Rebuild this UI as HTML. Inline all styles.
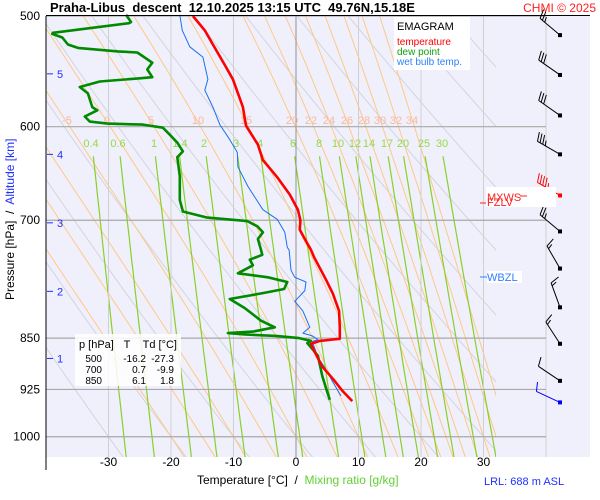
<!DOCTYPE html>
<html><head><meta charset="utf-8"><style>
body{margin:0;background:#fff;}
svg{display:block;font-family:"Liberation Sans",sans-serif;}
</style></head><body>
<svg id="chart" width="600" height="500" viewBox="0 0 600 500">
<rect x="46" y="16" width="544" height="441" fill="#f0f0fc"/>
<defs><clipPath id="clipL"><rect x="46" y="16" width="450" height="441"/></clipPath>
<clipPath id="clipM"><rect x="46" y="156" width="450" height="301"/></clipPath></defs>
<g id="gDry" clip-path="url(#clipL)"></g>
<g id="gMoist" clip-path="url(#clipL)"></g>
<g id="gMix" clip-path="url(#clipM)"></g>
<g id="gGrid"></g>
<g id="gLabels"></g>
<g id="gSeries"></g>
<g id="gWind"></g>
<line x1="46" y1="16" x2="46" y2="470" stroke="#000"/>
<line x1="46" y1="15.5" x2="590" y2="15.5" stroke="#000"/>
<text x="50" y="12" font-size="13" font-weight="bold" style="white-space:pre">Praha-Libus  descent  12.10.2025 13:15 UTC  49.76N,15.18E</text>
<text x="596" y="12" font-size="12" fill="#ff2020" text-anchor="end">CHMI © 2025</text>
<rect x="394" y="17" width="76" height="53" fill="#fff"/>
<text x="397" y="30" font-size="11">EMAGRAM</text>
<text x="397" y="45" font-size="10" fill="#ff0000">temperature</text>
<text x="397" y="55" font-size="10" fill="#10a010">dew point</text>
<text x="397" y="65" font-size="10" fill="#3080ff">wet bulb temp.</text>
<rect x="75" y="334" width="106" height="52" fill="#fff" opacity="0.85"/>
<g font-size="11">
<text x="79" y="348">p [hPa]</text><text x="127" y="348" text-anchor="middle">T</text><text x="177" y="348" text-anchor="end">Td [°C]</text>
<text x="102" y="362" font-size="10" text-anchor="end">500</text><text x="146" y="362" font-size="10" text-anchor="end">-16.2</text><text x="174" y="362" font-size="10" text-anchor="end">-27.3</text>
<text x="102" y="373" font-size="10" text-anchor="end">700</text><text x="146" y="373" font-size="10" text-anchor="end">0.7</text><text x="174" y="373" font-size="10" text-anchor="end">-9.9</text>
<text x="102" y="384" font-size="10" text-anchor="end">850</text><text x="146" y="384" font-size="10" text-anchor="end">6.1</text><text x="174" y="384" font-size="10" text-anchor="end">1.8</text>
</g>
<g id="gAxes"></g>
<text transform="translate(14,300) rotate(-90)" font-size="12" style="white-space:pre"><tspan>Pressure [hPa]  /  </tspan><tspan fill="#2030ff">Altitude [km]</tspan></text>
<text x="197" y="484" font-size="12" style="white-space:pre">Temperature [°C]  /  <tspan fill="#60d030">Mixing ratio [g/kg]</tspan></text>
<text x="484" y="485" font-size="11" fill="#2030ff">LRL: 688 m ASL</text>
<rect x="486" y="187" width="70" height="20" fill="#fff"/>
<line x1="480" y1="203" x2="486" y2="203" stroke="#ff2020"/>
<line x1="520" y1="196" x2="527" y2="196" stroke="#ff2020"/>
<text x="487" y="206" font-size="11" fill="#ff2020">FZLV</text>
<text x="487" y="201" font-size="11" fill="#ff2020">MXWS</text>
<rect x="487" y="271" width="35" height="12" fill="#fff"/>
<line x1="480" y1="277" x2="487" y2="277" stroke="#3080ff"/>
<text x="487" y="281" font-size="11" fill="#3080ff">WBZL</text>
</svg>
<script>
// ---- data ----
const tempP = [500,512,524,542,555,581,599,618,634,653,671,688,700,711,722,735,744,772,790,813,835,851,852,854,858,868,891,909,928,943];
const tempT = [-16.5,-14.6,-13.3,-11.4,-10.1,-8.5,-8.0,-6.1,-5.3,-2.9,-1.0,0.3,0.7,0.6,1.4,2.4,2.9,4.8,5.9,6.9,7.0,7.0,5.9,3.8,2.4,2.9,4.2,5.9,7.5,9.0];
const dewP = [499,505,506,514,515,518,524,527,530,531,540,546,553,554,557,562,568,581,584,590,595,597,598,601,608,616,625,631,651,677,690,697,701,707,714,722,735,741,747,754,764,769,775,784,789,797,809,826,835,841,843,845,847,850,854,857,875,888,905,923,941];
const dewT = [-27.2,-26.4,-26.7,-38.9,-39.0,-37.4,-36.5,-34.9,-28.5,-25.4,-23.0,-23.8,-23.0,-25.0,-31.4,-34.6,-33.3,-32.6,-31.8,-33.8,-33.0,-30.2,-24.5,-21.3,-20.2,-19.0,-18.1,-19.0,-18.6,-18.6,-18.1,-14.2,-7.8,-6.2,-5.3,-6.1,-5.6,-5.4,-7.4,-6.9,-9.3,-4.5,-1.4,-1.9,-5.1,-10.6,-8.2,-5.6,-3.4,-6.9,-10.9,-8.2,-3.2,0.5,2.4,1.8,3.5,3.8,4.2,4.8,5.4];
const wbP = [499,512,526,535,555,565,581,598,613,626,641,662,688,699,714,732,735,760,769,775,786,800,813,835,843,847,852,855,877,895,914,935];
const wbT = [-18.6,-18.2,-17.0,-14.9,-14.1,-14.6,-13.3,-12.2,-10.6,-9.4,-9.3,-7.7,-5.3,-3.0,-1.8,-1.4,-1.1,-0.8,-0.2,1.6,1.4,-0.2,1.1,2.2,1.1,2.6,3.5,2.6,3.5,4.8,5.9,7.2];
const pressTicks = [500,600,700,850,925,1000];
const tempTicks = [-30,-20,-10,0,10,20,30];
const altTicks = [5,4,3,2,1];
const altTickP = [550,628,703,787,879];
const moistThetaW = [-20,-15,-10,-5,0,5,10,15,20,22,24,26,28,30,32,34];
const moistLabels = ["-5","0","5","10","15","20","22","24","26","28","30","32","34"];
const mixRatios = [0.4,0.6,1,1.4,2,3,4,6,8,10,12,14,17,20,25,30];
const dryTheta = [-30,-20,-10,0,10,20,30,40,50,60,70,80,90,100,110,120,130];
const windP = [516,551,589,628,672,713,758,808,858,912,945];
const windDir = [310,305,305,300,300,310,330,340,327,304,295];
const windSpd = [25,30,30,35,45,25,15,15,15,10,10];

// ---- axes ----
const X = t => 296 + t*6.25;
const Y = p => 16 + 607*Math.log(p/500);
const NS='http://www.w3.org/2000/svg';
function mk(tag, parent, attrs){const e=document.createElementNS(NS,tag);for(const k in attrs)e.setAttribute(k,attrs[k]);parent.appendChild(e);return e;}
const g = id=>document.getElementById(id);
function es(tc){return 6.112*Math.exp(17.67*tc/(tc+243.5));}

dryTheta.forEach(th=>{
  let pts=[];for(let p=480;p<=1060;p+=10){const T=(th+273.15)*Math.pow(p/1000,0.2857)-273.15;pts.push(X(T).toFixed(1)+','+Y(p).toFixed(1));}
  const e=mk('polyline',g('gDry'),{points:pts.join(' '),fill:'none',stroke:'#d4d4dc','stroke-width':1});
  
  
});
function moist(tw){
  const Rd=287,cp=1004,L=2.5e6,eps=0.622;
  const res={};
  [-1,1].forEach(dir=>{
    let T=tw+273.15, lp=Math.log(1000);
    const step=dir*0.002;
    const target=dir<0?Math.log(480):Math.log(1060);
    while(dir<0?lp>target:lp<target){
      const p=Math.exp(lp), e=es(T-273.15), rs=eps*e/(p-e);
      const d=(Rd*T+L*rs)/(cp+L*L*rs*eps/(Rd*T*T));
      T+=d*step; lp+=step; res[Math.exp(lp).toFixed(1)]=T;
    }
  });
  return Object.keys(res).map(Number).sort((a,b)=>a-b).filter((p,i)=>i%5==0).map(p=>X(res[p.toFixed(1)]-273.15).toFixed(1)+','+Y(p).toFixed(1));
}
moistThetaW.forEach(tw=>{
  const e=mk('polyline',g('gMoist'),{points:moist(tw).join(' '),fill:'none',stroke:'#ffc886','stroke-width':1});
  
  
});
mixRatios.forEach(w=>{
  let pts=[];for(let p=630;p<=1060;p+=10){const e=w*p/(622+w);const l=Math.log(e/6.112);const T=243.5*l/(17.67-l);pts.push(X(T).toFixed(1)+','+Y(p).toFixed(1));}
  const e=mk('polyline',g('gMix'),{points:pts.join(' '),fill:'none',stroke:'#88d028','stroke-width':1.2});
  
  
});
tempTicks.forEach(t=>{
  const e=mk('line',g('gGrid'),{x1:X(t),x2:X(t),y1:16,y2:457,stroke:t==0?'#909090':'#d0d0d0','stroke-width':1});
  
  
  const l=mk('text',g('gAxes'),{x:X(t),y:466,'font-size':12,'text-anchor':'middle'});l.textContent=t;
  
  
});
mk('line',g('gGrid'),{x1:X(40),x2:X(40),y1:16,y2:457,stroke:'#d0d0d0'});
pressTicks.forEach(p=>{
  const e=mk('line',g('gGrid'),{x1:46,x2:546,y1:Y(p),y2:Y(p),stroke:'#a8a8a8','stroke-width':1.2});
  
  
  const l=mk('text',g('gAxes'),{x:40,y:Y(p)+4,'font-size':12,'text-anchor':'end'});l.textContent=p;
  
  
});
altTicks.forEach((a,i)=>{
  const y=Y(altTickP[i]);
  const t=mk('line',g('gAxes'),{x1:47,x2:53,y1:y,y2:y,stroke:'#2030ff'});
  
  
  const l=mk('text',g('gAxes'),{x:57,y:y+4,'font-size':11,fill:'#2030ff'});l.textContent=a;
  
  
});
const moistLabelX=[67,107,151,198,246,292,311,329,347,364,380,396,412];
moistLabels.forEach((s,i)=>{
  const l=mk('text',g('gLabels'),{x:moistLabelX[i],y:124,'font-size':11,fill:'#f8b8a0','text-anchor':'middle'});l.textContent=s;
  
  
});
const mixLabelX=[91,118,154,180,204,236,260,293,319,338,355,369,387,403,424,442];
mixRatios.forEach((w,i)=>{
  const l=mk('text',g('gLabels'),{x:mixLabelX[i],y:147,'font-size':11,fill:'#98d848','text-anchor':'middle'});l.textContent=w;
  
  
});
function series(P,T,color,w,name){
  const pts=P.map((p,i)=>X(T[i]).toFixed(1)+','+Y(p).toFixed(1)).join(' ');
  const e=mk('polyline',g('gSeries'),{points:pts,fill:'none',stroke:color,'stroke-width':w,'stroke-linejoin':'round'});
  
  
}
series(wbP,wbT,'#1870f0',1,'wet-bulb-line');
series(dewP,dewT,'#008a00',2.6,'dew-point-line');
series(tempP,tempT,'#ff0000',2.6,'temperature-line');
windP.forEach((p,i)=>{
  const y=Y(p), x=560, col=i==4?'#ff0000':(i==10?'#0000ff':'#000');
  const a=windDir[i]*Math.PI/180, L=26;
  const ux=Math.sin(a), uy=-Math.cos(a);
  const ex=x+ux*L, ey=y+uy*L;
  const grp=mk('g',g('gWind'),{stroke:col,'stroke-width':1,fill:'none'});
  
  
  mk('line',grp,{x1:x,y1:y,x2:ex,y2:ey});
  mk('rect',grp,{x:x-2,y:y-2,width:4,height:4,fill:col,stroke:'none'});
  let n=Math.floor(windSpd[i]/10), half=(windSpd[i]%10)>=5;
  let k=0;
  const px=-uy, py=ux;
  for(let j=0;j<n;j++){const bx=ex-ux*k*3, by=ey-uy*k*3;mk('line',grp,{x1:bx,y1:by,x2:bx+px*9+ux*3,y2:by+py*9+uy*3});k++;}
  if(half){const bx=ex-ux*k*3, by=ey-uy*k*3;mk('line',grp,{x1:bx,y1:by,x2:bx+px*5+ux*2,y2:by+py*5+uy*2});}
});
</script>
</body></html>
